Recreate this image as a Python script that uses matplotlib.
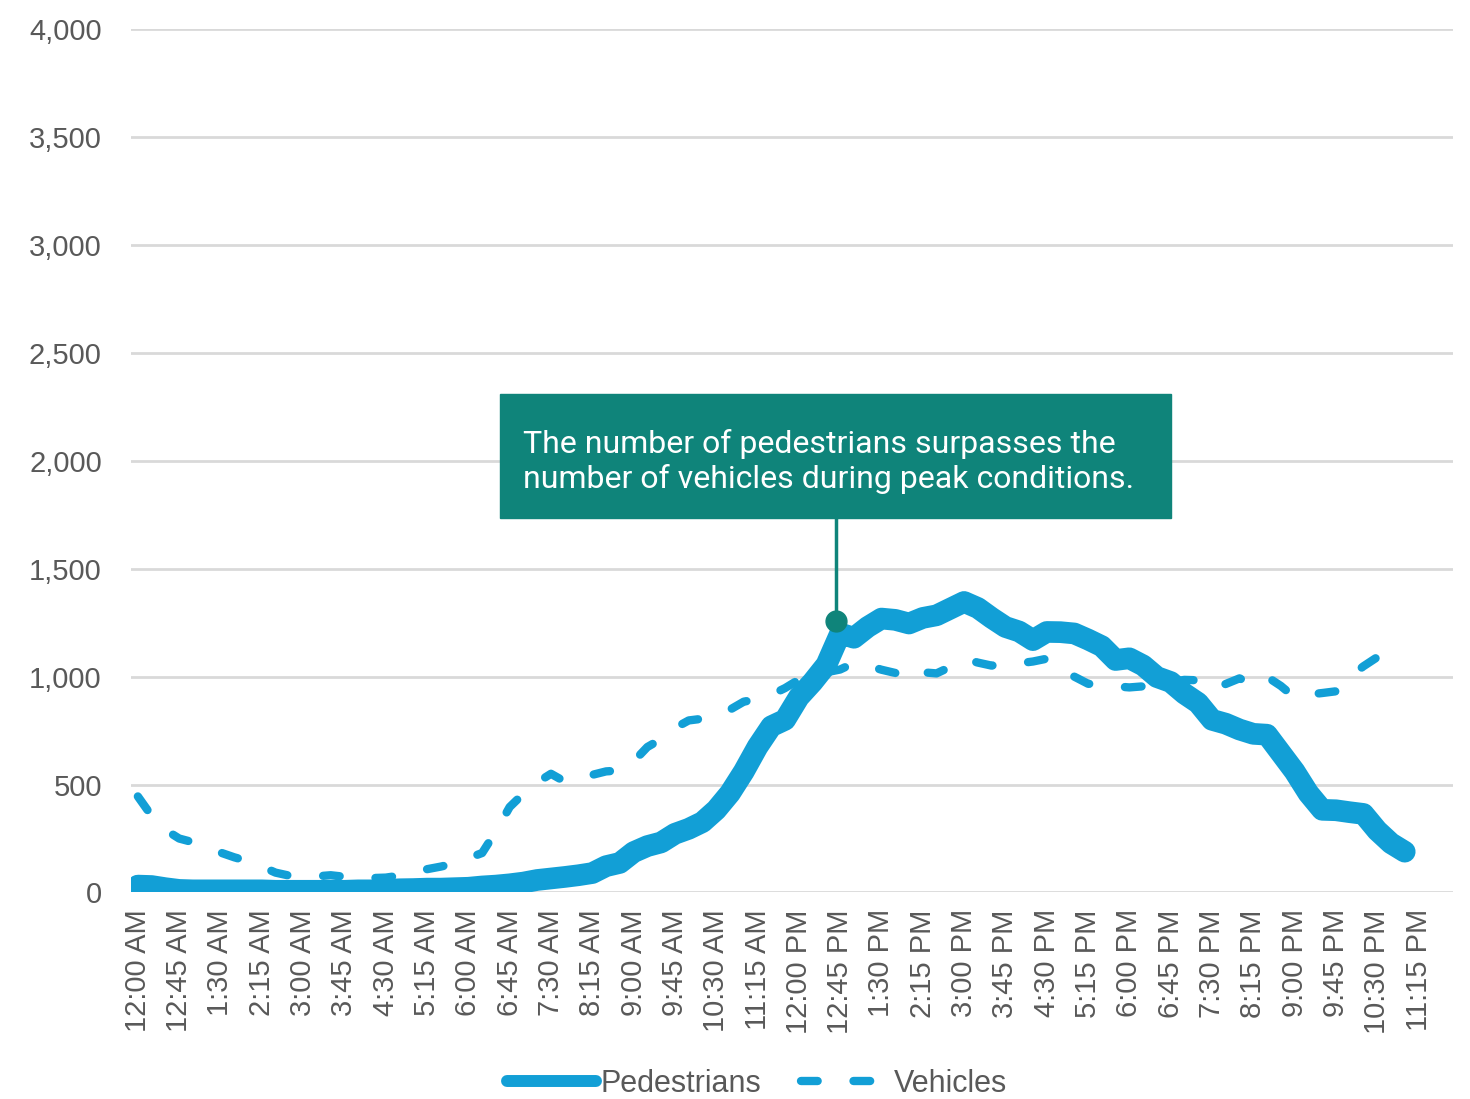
import numpy as np
import matplotlib.pyplot as plt
from matplotlib.lines import Line2D
from matplotlib.patches import Rectangle

# 15-minute counts, 12:00 AM .. 11:00 PM
pedestrians = [32, 30, 20, 12, 10, 10, 10, 10, 10, 10, 8, 8, 8, 8, 8, 8,
               10, 10, 12, 15, 16, 18, 18, 20, 22, 28, 32, 38, 46, 58, 65, 72,
               80, 90, 122, 137, 187, 215, 232, 272, 295, 326, 383, 460, 560, 675, 770, 800,
               905, 975, 1055, 1200, 1180, 1230, 1269, 1263, 1246, 1272, 1284, 1315, 1346, 1318,
               1272, 1230, 1209, 1169, 1207, 1206, 1200, 1172, 1141, 1077, 1085, 1052, 998, 975,
               921, 878, 800, 782, 755, 735, 731, 646, 561, 460, 383, 381, 372, 364, 287, 228, 189]
vehicles = [445, 355, 290, 250, 233, 210, 185, 163, 145, 120, 92, 78, 75, 75, 80, 73,
            70, 67, 69, 78, 92, 108, 120, 135, 159, 183, 283, 396, 458, 510, 550, 514,
            527, 545, 561, 565, 607, 674, 711, 762, 797, 805, 816, 847, 884, 896, 916, 947,
            986, 1000, 1020, 1033, 1063, 1051, 1032, 1017, 986, 1020, 1015, 1045, 1082, 1065,
            1051, 1062, 1062, 1070, 1083, 1059, 1000, 967, 961, 955, 950, 955, 965, 975,
            985, 983, 940, 966, 992, 963, 999, 957, 904, 917, 924, 932, 999, 1048, 1090, 1032]
n_slots = 96  # 12:00 AM .. 11:45 PM
tick_labels = ['12:00 AM', '12:45 AM', '1:30 AM', '2:15 AM', '3:00 AM', '3:45 AM', '4:30 AM',
               '5:15 AM', '6:00 AM', '6:45 AM', '7:30 AM', '8:15 AM', '9:00 AM', '9:45 AM',
               '10:30 AM', '11:15 AM', '12:00 PM', '12:45 PM', '1:30 PM', '2:15 PM', '3:00 PM',
               '3:45 PM', '4:30 PM', '5:15 PM', '6:00 PM', '6:45 PM', '7:30 PM', '8:15 PM',
               '9:00 PM', '9:45 PM', '10:30 PM', '11:15 PM']
note = 'The number of pedestrians surpasses the\nnumber of vehicles during peak conditions.'
note_x, note_y = 50.7, 1257

blue = '#129FD6'
teal = '#0F847A'
grey = '#595959'

plt.rcParams['font.family'] = ['Liberation Sans', 'DejaVu Sans']

fig = plt.figure(figsize=(14.7, 10.99), dpi=100)
ax = fig.add_axes([0.0891, 0.1879, 0.8993, 0.7857])

x = np.arange(len(pedestrians))
ax.plot(np.arange(len(vehicles)), vehicles, color=blue, lw=6, dashes=(2.0, 4.3),
        dash_capstyle='round', zorder=2)
ax.plot(x, pedestrians, color=blue, lw=15.6, solid_capstyle='round',
        solid_joinstyle='round', zorder=3)

ax.set_xlim(-0.5, n_slots - 0.5)
ax.set_ylim(0, 4000)
ax.set_yticks(range(0, 4001, 500))
ax.set_yticklabels([f'{v:,}' for v in range(0, 4001, 500)])
ax.set_xticks(range(0, n_slots, 3))
ax.set_xticklabels(tick_labels, rotation=90)
ax.tick_params(length=0, labelsize=21, colors=grey)
ax.tick_params(axis='y', pad=21)
ax.tick_params(axis='x', pad=12)
ax.grid(axis='y', color='#d9d9d9', lw=2)
ax.set_axisbelow(True)
for s in ax.spines.values():
    s.set_visible(False)

# callout
ax.add_patch(Rectangle((26.3, 1733), 48.7, 576, color=teal, zorder=5, clip_on=False))
ax.text(28.0, 1998, note, color='white', fontsize=23, family=['Roboto', 'DejaVu Sans'],
        va='center', ha='left', linespacing=1.22, zorder=6)
ax.plot([note_x, note_x], [1733, note_y], color=teal, lw=2.5, zorder=5)
ax.plot([note_x], [note_y], 'o', color=teal, ms=15, zorder=6)

handles = [Line2D([], [], color=blue, lw=8.6, solid_capstyle='round'),
           Line2D([], [], color=blue, lw=6, dashes=(2.0, 4.3), dash_capstyle='round')]
fig.legend(handles, ['Pedestrians', 'Vehicles'], loc='center', bbox_to_anchor=(0.515, 0.0135),
           ncol=2, frameon=False, fontsize=22, labelcolor=grey, handlelength=2.9,
           handletextpad=0.15, columnspacing=1.3)

fig.savefig('out.png', dpi=100)
